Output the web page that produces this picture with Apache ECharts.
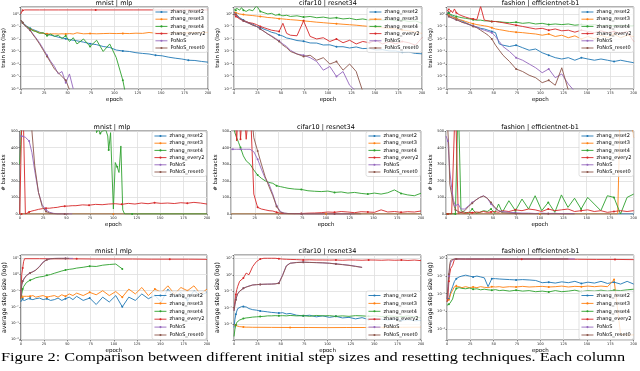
<!DOCTYPE html>
<html lang="en">
<head>
<meta charset="UTF-8">
<title>Step sizes and resetting</title>
<script src="https://cdn.jsdelivr.net/npm/echarts@6/dist/echarts.min.js"></script>
<style>
  html, body { margin: 0; padding: 0; background: #fff; }
  #chart { width: 640px; height: 371px; }
</style>
</head>
<body>
<div id="chart"></div>
<script>
const EP = [0,1,2,3,4,6,8,10,13,16,20,24,28,32,36,40,44,48,52,56,60,67,74,81,88,95,102,109,116,123,130,137,144,151,158,165,172,179,186,193,200];
const FLAT_X = [0,50,100,150,200];

const NAMES = ['zhang_reset2', 'zhang_reset3', 'zhang_reset4', 'zhang_every2', 'PoNoS', 'PoNoS_reset0'];
const COLORS = ['#1f77b4', '#ff7f0e', '#2ca02c', '#d62728', '#9467bd', '#8c564b'];

// ---- train loss, mnist | mlp
const lossMnistR2 = [0.32,0.25,0.2,0.16,0.14,0.11,0.089,0.072,0.056,0.047,0.035,0.028,0.024,0.02,0.017,0.014,0.012,0.0105,0.0089,0.0079,0.0071,0.0056,0.0042,0.0035,0.0025,0.0021,0.0013,0.0011,0.001,0.0008,0.0007,0.00063,0.0005,0.00045,0.00035,0.00029,0.00025,0.0002,0.00019,0.00016,0.00014];
const lossMnistR3 = [0.32,0.25,0.2,0.16,0.13,0.1,0.08,0.063,0.05,0.04,0.032,0.028,0.026,0.025,0.026,0.025,0.026,0.025,0.027,0.025,0.031,0.026,0.027,0.026,0.027,0.028,0.027,0.028,0.027,0.029,0.028,0.033,0.029,0.03,0.029,0.031,0.03,0.031,0.032,0.031,0.034];
const lossMnistR4 = [0.32,0.25,0.2,0.16,0.13,0.1,0.079,0.063,0.045,0.04,0.028,0.032,0.018,0.025,0.016,0.02,0.011,0.018,0.0063,0.0126,0.004,0.01,0.0025,0.0079,0.001,0.004,0.00032,5e-6,1e-8];
const lossMnistEvX = [0,1,2,4,20,40,60,80,100,120,140,160,180,200];
const lossMnistEv = [1.0,1.6,2.0,2.1,2.1,2.1,2.1,2.1,2.1,2.1,2.1,2.1,2.1,2.1];
const lossMnistPo = [0.32,0.25,0.2,0.16,0.13,0.089,0.063,0.05,0.025,0.0126,0.005,0.0016,0.0005,0.00016,6.3e-5,1.6e-5,2.5e-5,3.2e-6,1.6e-5,1.05e-6];
const lossMnistPo0 = [0.32,0.25,0.2,0.16,0.13,0.089,0.063,0.05,0.022,0.0112,0.004,0.00126,0.0004,0.000126,4e-5,2e-5,1e-5,5e-6,9e-7];

// ---- train loss, cifar10 | resnet34
const lossCifarR2 = [1.4,1.25,1.0,0.8,0.7,0.5,0.4,0.33,0.24,0.2,0.15,0.1,0.085,0.06,0.047,0.034,0.029,0.021,0.017,0.012,0.0105,0.0075,0.0066,0.0048,0.0047,0.0033,0.0034,0.0024,0.0024,0.0019,0.0023,0.0017,0.0018,0.0013,0.0014,0.0011,0.0011,0.00085,0.0009,0.0007,0.00065];
const lossCifarR3 = [1.41,1.32,1.26,1.2,1.12,1.0,0.95,0.89,0.83,0.79,0.74,0.68,0.63,0.58,0.52,0.5,0.46,0.42,0.4,0.37,0.35,0.32,0.28,0.25,0.22,0.2,0.18,0.166,0.15,0.138,0.126,0.112,0.1,0.089,0.079,0.071,0.063,0.052,0.045,0.035,0.028];
const lossCifarR4 = [2.0,2.5,2.0,2.8,2.2,2.0,3.2,2.0,1.6,2.2,1.8,4.5,1.6,1.26,1.0,1.12,0.79,0.89,0.71,0.79,0.63,0.71,0.56,0.63,0.5,0.56,0.45,0.5,0.4,0.45,0.35,0.4,0.32,0.35,0.32,0.35,0.28,0.32,0.25,0.28,0.18];
const lossCifarEv = [1.0,0.79,0.63,0.5,0.45,0.4,0.32,0.28,0.25,0.2,0.18,0.14,0.1,0.079,0.063,0.05,0.045,0.04,0.18,0.028,0.02,0.018,0.28,0.016,0.01,0.0126,0.0063,0.01,0.005,0.0079,0.004,0.0063,0.005,0.0079,0.004,0.0063,0.004,0.0063,0.005,0.0032,0.0126];
const lossCifarPo = [1.41,1.12,0.89,0.71,0.63,0.45,0.35,0.28,0.22,0.178,0.126,0.1,0.063,0.04,0.025,0.0178,0.0112,0.0071,0.004,0.0025,0.00126,0.00063,0.0005,0.00032,0.000158,3.2e-5,6.3e-5,1e-5,2.5e-5,2e-6,6.3e-7];
const lossCifarPo0 = [1.41,1.12,0.89,0.71,0.63,0.45,0.35,0.28,0.22,0.178,0.126,0.1,0.063,0.04,0.025,0.0158,0.01,0.0063,0.0032,0.002,0.001,0.00063,0.0004,0.0005,0.0002,0.00032,0.0001,0.000158,3.2e-5,0.0001,2.5e-5,6.3e-7];

// ---- train loss, fashion | efficientnet-b1
const lossFashR2 = [1.12,1.0,1.26,0.89,0.79,0.63,0.5,0.45,0.35,0.28,0.2,0.14,0.112,0.089,0.071,0.063,0.05,0.04,0.032,0.004,0.0032,0.0025,0.0032,0.002,0.00126,0.00158,0.00079,0.0005,0.00032,0.00025,0.00032,0.0002,0.00032,0.00025,0.0002,0.00025,0.0002,0.000158,0.0002,0.000158,0.000126];
const lossFashR3 = [1.0,0.89,0.79,0.71,0.63,0.56,0.5,0.45,0.35,0.32,0.25,0.2,0.166,0.141,0.126,0.112,0.1,0.079,0.063,0.056,0.05,0.04,0.035,0.032,0.028,0.025,0.02,0.025,0.0158,0.02,0.0126,0.0178,0.01,0.0158,0.01,0.02,0.0126,0.025,0.0126,0.02,0.0158];
const lossFashR4 = [1.26,1.41,1.12,1.0,0.89,0.79,0.71,0.63,0.56,0.5,0.45,0.4,0.35,0.32,0.32,0.28,0.28,0.25,0.25,0.24,0.22,0.2,0.22,0.178,0.2,0.158,0.178,0.141,0.158,0.141,0.158,0.126,0.141,0.126,0.141,0.112,0.126,0.112,0.126,0.112,0.112];
const lossFashEv = [2.0,1.58,2.24,1.26,2.0,1.26,2.51,1.26,0.89,0.71,0.56,0.45,0.4,0.35,4.0,0.32,0.28,0.25,0.25,0.22,0.2,0.158,0.126,0.1,0.079,0.063,0.071,0.05,0.063,0.045,0.05,0.035,0.05,0.04,0.032,0.045,0.032,0.04,0.028,0.04,0.0063];
const lossFashPo = [1.0,0.79,0.63,0.56,0.5,0.45,0.4,0.35,0.28,0.22,0.178,0.141,0.112,0.089,0.063,0.05,0.04,0.032,0.0158,0.0063,0.0025,0.001,0.00032,0.0002,0.0001,5e-5,2e-5,4e-5,8e-6,1.6e-5,2.5e-6,6.3e-7];
const lossFashPo0 = [1.0,0.79,0.63,0.56,0.5,0.45,0.4,0.35,0.28,0.22,0.178,0.141,0.1,0.079,0.05,0.032,0.02,0.01,0.0032,0.00126,0.0005,0.000158,4e-5,2.5e-5,1.26e-5,8e-6,3.2e-6,5e-6,2e-6,5e-5,8e-7];

// ---- backtracks, mnist | mlp
const btZero = [0,0,0,0,0];
const btMnistR4X = [0,1,2,3,80,82,84,86,88,90,92,94,95,97,98,100,102,104,106,108,110,112,120,160,200];
const btMnistR4 = [300,420,560,700,700,490,510,485,500,495,505,470,385,490,480,30,310,285,250,410,25,0,0,0,0];
const btMnistEv = [0,0,0,800,800,0,5,12,18,22,28,32,35,35,38,40,45,47,48,50,50,55,53,58,56,60,62,58,64,60,66,62,68,64,66,63,68,65,70,66,60];
const btMnistPo = [470,470,468,468,465,462,452,440,370,260,130,55,25,10,4,1,0,0,0,0];
const btMnistPo0 = [700,700,700,700,700,700,700,700,500,290,130,45,15,5,2,0,0,0,0];

// ---- backtracks, cifar10 | resnet34
const btCifarR4 = [700,700,600,520,490,460,430,400,350,320,300,265,235,215,200,190,185,170,165,160,155,150,148,140,137,135,138,130,133,126,130,124,120,126,120,128,145,124,115,110,125];
const btCifarEv = [700,700,700,700,700,440,700,450,700,450,700,120,40,30,25,20,18,10,5,3,2,2,3,5,6,8,12,10,15,12,8,14,12,10,25,12,15,10,14,12,18];
const btCifarPo = [390,390,390,390,390,390,390,390,390,390,390,375,330,270,215,180,120,50,15,5,3,2,1,0,0,0,0,0,0,0,0];
const btCifarPo0 = [700,700,700,700,700,700,700,700,700,700,700,460,380,300,225,165,110,45,10,5,3,2,1,0,0,0,0,0,0,0,0,0];

// ---- backtracks, fashion | efficientnet-b1
const btFashR3X = [0,50,100,150,179,183,186,193,200];
const btFashR3 = [0,0,0,0,0,0,700,700,460];
const btFashR4 = [0,0,0,0,0,0,0,0,700,20,10,5,30,5,10,20,15,30,5,60,10,80,20,90,30,110,20,70,10,115,40,95,30,100,60,20,110,100,0,100,120];
const btFashEv = [0,0,0,0,0,0,0,700,5,10,5,10,8,12,10,15,10,12,15,10,20,15,25,20,30,25,15,30,20,25,30,15,20,25,15,20,10,15,20,15,20];
const btFashPo = [470,460,440,350,260,160,80,50,60,30,30,50,70,85,100,110,95,60,35,20,15,10,8,5,5,3,5,3,4,2,3,2];
const btFashPo0 = [700,700,700,400,180,120,60,25,15,10,20,45,65,85,100,108,95,70,40,20,8,5,3,2,2,1,2,1,1,0,0,0];

// ---- average step size, mnist | mlp
const stMnistR2 = [0.02,0.028,0.032,0.028,0.025,0.028,0.032,0.035,0.028,0.032,0.035,0.028,0.032,0.025,0.028,0.035,0.025,0.032,0.04,0.028,0.045,0.025,0.035,0.014,0.04,0.02,0.05,0.01,0.04,0.025,0.063,0.032,0.05,0.02,0.126,0.04,0.079,0.025,0.1,0.05,0.079];
const stMnistR3 = [0.05,0.045,0.04,0.045,0.04,0.045,0.04,0.045,0.05,0.04,0.045,0.05,0.04,0.045,0.05,0.04,0.056,0.045,0.063,0.05,0.071,0.05,0.079,0.056,0.1,0.05,0.089,0.04,0.126,0.063,0.158,0.05,0.126,0.079,0.2,0.063,0.158,0.1,0.2,0.063,0.126];
const stMnistR4 = [0.03,0.063,0.126,0.178,0.22,0.32,0.38,0.45,0.52,0.63,0.71,0.76,0.89,1.0,1.2,1.41,1.66,1.9,2.1,2.24,2.51,2.82,3.31,3.16,3.8,4.17,4.47,2.24];
const stMnistEvX = [0,1,2,3,4,20,40,60,80,100,120,140,160,180,200];
const stMnistEv = [0.032,1.0,2.51,6.31,9.55,9.55,9.33,9.33,9.12,9.12,9.12,8.91,8.91,8.91,8.71];
const stMnistPo = [0.05,0.25,0.4,0.5,0.63,0.89,1.12,1.26,1.51,1.91,3.16,6.03,8.51,9.55,10,10,10,10,10,10];
const stMnistPo0 = [0.05,0.22,0.38,0.5,0.6,0.85,1.07,1.26,1.48,1.86,3.0,5.75,8.3,9.55,9.8,10,10,10,10];

// ---- average step size, cifar10 | resnet34
const stCifarR2 = [0.00063,0.002,0.004,0.0063,0.0089,0.0105,0.0117,0.012,0.0112,0.0089,0.0076,0.0071,0.0063,0.006,0.0056,0.0052,0.005,0.0047,0.005,0.0042,0.0045,0.0035,0.0032,0.0035,0.0028,0.0032,0.0026,0.003,0.0024,0.0026,0.0021,0.0025,0.0019,0.0022,0.002,0.0018,0.0021,0.0017,0.0019,0.0016,0.0017];
const stCifarR3X = [0,1,2,3,4,6,8,10,13,16,20,40,60,80,100,120,140,160,180,200];
const stCifarR3 = [0.00089,0.001,0.00089,0.00079,0.00076,0.00071,0.00071,0.00068,0.00066,0.00066,0.00065,0.00064,0.00063,0.00063,0.00062,0.00063,0.00063,0.00064,0.00065,0.00066];
const stCifarR4 = [0.00018,0.0005,0.00089,0.0013,0.0015,0.0018,0.002,0.0022,0.0024,0.0025,0.0027,0.0028,0.0029,0.003,0.0032,0.0032,0.0033,0.0032,0.0033,0.0032,0.0034,0.0032,0.0033,0.003,0.0034,0.0032,0.0033,0.003,0.0032,0.003,0.0033,0.0032,0.003,0.0032,0.0029,0.0032,0.003,0.0028,0.0032,0.0028,0.0024];
const stCifarEv = [0.0079,0.025,0.063,0.126,0.2,0.4,0.5,0.63,1.26,1.0,3.16,6.3,8.9,10,10,10,10,9.5,8.9,8.7,8.5,8.3,7.9,8.1,7.9,7.9,7.8,7.9,7.6,7.9,7.8,7.6,7.9,7.8,7.6,7.9,7.6,7.8,7.4,7.8,7.2];
const stCifarPo = [0.0063,0.016,0.032,0.05,0.071,0.1,0.126,0.15,0.178,0.21,0.24,0.25,0.26,0.26,0.27,0.275,0.28,0.32,1.0,3.55,5.0,5.6,5.75,5.6,5.5,5.25,5.0,4.6,4.2,3.8,3.3,2.8];
const stCifarPo0 = [0.0063,0.016,0.03,0.05,0.07,0.1,0.12,0.15,0.18,0.2,0.24,0.25,0.26,0.27,0.27,0.27,0.28,0.3,0.9,3.4,5.0,5.5,5.8,5.6,5.4,5.3,5.0,4.5,4.1,3.7,3.2,2.8];

// ---- average step size, fashion | efficientnet-b1
const stFashR2 = [0.0035,0.004,0.005,0.0063,0.0126,0.025,0.05,0.071,0.089,0.1,0.112,0.1,0.089,0.1,0.089,0.079,0.025,0.071,0.071,0.068,0.066,0.063,0.06,0.063,0.06,0.056,0.042,0.045,0.04,0.047,0.042,0.05,0.038,0.045,0.04,0.05,0.038,0.045,0.035,0.05,0.035];
const stFashR3 = [0.0035,0.004,0.0045,0.0063,0.01,0.0158,0.025,0.028,0.025,0.022,0.025,0.022,0.024,0.022,0.025,0.023,0.022,0.025,0.024,0.025,0.023,0.025,0.024,0.026,0.024,0.025,0.026,0.024,0.025,0.027,0.024,0.026,0.025,0.027,0.025,0.027,0.025,0.063,5e-5,4.5e-5,4.7e-5];
const stFashR4 = [0.0022,0.0025,0.0025,0.0028,0.0032,0.005,0.0126,0.02,0.022,0.02,0.019,0.021,0.018,0.019,0.0166,0.018,0.0166,0.0158,0.017,0.015,0.0158,0.014,0.0158,0.014,0.015,0.013,0.014,0.0126,0.015,0.013,0.014,0.0158,0.013,0.015,0.014,0.0158,0.014,0.0158,0.015,0.0166,0.018];
const stFashEvX = [0,1,2,3,4,6,8,10,13,20,40,60,80,100,120,140,160,180,200];
const stFashEv = [0.0035,0.0063,0.05,0.141,0.27,0.4,0.89,0.91,0.91,0.89,0.89,0.89,0.89,0.89,0.89,0.89,0.87,0.87,0.85];
const stFashPoX = [0,1,2,3,4,6,8,10,20,40,60,80,100,120,137];
const stFashPo = [0.005,0.02,0.1,0.35,0.56,0.83,0.91,0.93,0.93,0.93,0.93,0.93,0.93,0.93,0.93];
const stFashPo0X = [0,1,2,3,4,6,8,10,20,40,60,80,100,120,130];
const stFashPo0 = [0.005,0.025,0.126,0.5,0.79,0.89,0.93,0.93,0.93,0.93,0.93,0.93,0.93,0.93,0.93];

const CAPTION = 'Figure 2: Comparison between different initial step sizes and resetting techniques. Each column';

const FONT = 'DejaVu Sans';
const SUP = {'-': '\u207b', '0': '\u2070', '1': '\u00b9', '2': '\u00b2', '3': '\u00b3', '4': '\u2074', '5': '\u2075', '6': '\u2076', '7': '\u2077', '8': '\u2078', '9': '\u2079'};

function logLabel(v) {
  const k = Math.log10(v);
  const r = Math.round(k);
  if (Math.abs(k - r) > 0.02) return '';
  return '10' + String(r).split('').map(c => SUP[c]).join('');
}

function pairs(xs, ys) {
  const out = [];
  for (let i = 0; i < ys.length && i < xs.length; i++) out.push([xs[i], ys[i]]);
  return out;
}

// one entry per subplot; each series is [xs, ys] in NAMES order
const panels = [
  {title: 'mnist | mlp', kind: 'loss', box: [20, 7, 188, 82], lines: [
    [EP, lossMnistR2], [EP, lossMnistR3], [EP, lossMnistR4], [lossMnistEvX, lossMnistEv], [EP, lossMnistPo], [EP, lossMnistPo0]]},
  {title: 'cifar10 | resnet34', kind: 'loss', box: [234, 7, 188, 82], lines: [
    [EP, lossCifarR2], [EP, lossCifarR3], [EP, lossCifarR4], [EP, lossCifarEv], [EP, lossCifarPo], [EP, lossCifarPo0]]},
  {title: 'fashion | efficientnet-b1', kind: 'loss', box: [447, 7, 187, 82], lines: [
    [EP, lossFashR2], [EP, lossFashR3], [EP, lossFashR4], [EP, lossFashEv], [EP, lossFashPo], [EP, lossFashPo0]]},
  {title: 'mnist | mlp', kind: 'bt', box: [17, 131, 190, 83], lines: [
    [FLAT_X, btZero], [FLAT_X, btZero], [btMnistR4X, btMnistR4], [EP, btMnistEv], [EP, btMnistPo], [EP, btMnistPo0]]},
  {title: 'cifar10 | resnet34', kind: 'bt', box: [231, 131, 190, 83], lines: [
    [FLAT_X, btZero], [FLAT_X, btZero], [EP, btCifarR4], [EP, btCifarEv], [EP, btCifarPo], [EP, btCifarPo0]]},
  {title: 'fashion | efficientnet-b1', kind: 'bt', box: [446, 131, 188, 83], lines: [
    [FLAT_X, btZero], [btFashR3X, btFashR3], [EP, btFashR4], [EP, btFashEv], [EP, btFashPo], [EP, btFashPo0]]},
  {title: 'mnist | mlp', kind: 'step', box: [20, 255, 187, 85], yRange: [8.9e-5, 16.2], lines: [
    [EP, stMnistR2], [EP, stMnistR3], [EP, stMnistR4], [stMnistEvX, stMnistEv], [EP, stMnistPo], [EP, stMnistPo0]]},
  {title: 'cifar10 | resnet34', kind: 'step', box: [234, 255, 187, 85], yRange: [1.1e-4, 15.8], lines: [
    [EP, stCifarR2], [stCifarR3X, stCifarR3], [EP, stCifarR4], [EP, stCifarEv], [EP, stCifarPo], [EP, stCifarPo0]]},
  {title: 'fashion | efficientnet-b1', kind: 'step', box: [447, 255, 187, 85], yRange: [2.4e-5, 1.55], lines: [
    [EP, stFashR2], [EP, stFashR3], [EP, stFashR4], [stFashEvX, stFashEv], [stFashPoX, stFashPo], [stFashPo0X, stFashPo0]]}
];

const YNAME = {loss: 'train loss (log)', bt: '# backtracks', step: 'average step size (log)'};

const grid = [], xAxis = [], yAxis = [], series = [], title = [], legend = [];

panels.forEach((p, gi) => {
  const [l, t, w, h] = p.box;
  grid.push({left: l, top: t, width: w, height: h, show: true,
    borderColor: '#222', borderWidth: 0.7, backgroundColor: '#fff'});
  title.push({text: p.title, left: l + w / 2, top: t - 7, textAlign: 'center', padding: 0,
    textStyle: {fontFamily: FONT, fontSize: 6.5, fontWeight: 'normal', color: '#000'}});
  xAxis.push({gridIndex: gi, type: 'value', min: 0, max: 200, interval: 25,
    name: 'epoch', nameLocation: 'middle', nameGap: 8,
    nameTextStyle: {fontFamily: FONT, fontSize: 5.5, color: '#000'},
    axisLine: {show: false},
    axisTick: {show: true, length: 1.5, lineStyle: {color: '#222', width: 0.5}},
    axisLabel: {fontFamily: FONT, fontSize: 3.5, color: '#222', margin: 2},
    splitLine: {show: true, lineStyle: {color: '#dedede', width: 0.8}}});
  const y = {gridIndex: gi, name: YNAME[p.kind], nameLocation: 'middle', nameGap: 11,
    nameTextStyle: {fontFamily: FONT, fontSize: 5.5, color: '#000'},
    axisLine: {show: false},
    axisTick: {show: true, length: 1.5, lineStyle: {color: '#222', width: 0.5}},
    axisLabel: {fontFamily: FONT, fontSize: 3.6, color: '#222', margin: 2},
    splitLine: {show: true, lineStyle: {color: '#dedede', width: 0.8}}};
  if (p.kind === 'bt') {
    Object.assign(y, {type: 'value', min: 0, max: 500, interval: 100});
  } else {
    const r = p.kind === 'loss' ? [1e-6, 3.6] : p.yRange;
    Object.assign(y, {type: 'log', logBase: 10, min: r[0], max: r[1]});
    y.axisLabel.formatter = logLabel;
  }
  if (p.kind === 'step') y.nameTextStyle.fontSize = 6.2;
  yAxis.push(y);

  p.lines.forEach((ln, si) => {
    series.push({type: 'line', name: NAMES[si], xAxisIndex: gi, yAxisIndex: gi,
      data: pairs(ln[0], ln[1]), color: COLORS[si],
      symbol: 'circle', showSymbol: true,
      symbolSize: (v, prm) => (prm.dataIndex % 5 === 2 ? 2 : 0),
      lineStyle: {width: 0.9}, clip: true, silent: true});
  });

  const lower = p.kind === 'step';
  legend.push({data: NAMES, orient: 'vertical', left: l + w - 55,
    top: lower ? t + h - 49 : t + 0.5,
    itemWidth: 12, itemHeight: 2.6, itemGap: lower ? 2.9 : 2.2,
    lineStyle: {width: 0.9},
    padding: [2, 2, 2, 2], backgroundColor: 'rgba(255,255,255,0.8)',
    borderColor: '#ccc', borderWidth: 0.6, borderRadius: 2,
    textStyle: {fontFamily: FONT, fontSize: 5, color: '#000', padding: [0, 0, 0, -2]},
    selectedMode: false});
});

const chart = echarts.init(document.getElementById('chart'));
chart.setOption({
  animation: false,
  backgroundColor: '#fff',
  title, grid, xAxis, yAxis, series, legend,
  graphic: [{type: 'text', x: 1, y: 351, scaleY: 0.8,
    style: {text: CAPTION, font: '16.3px "Liberation Serif"', fill: '#000'}}]
});
</script>
</body>
</html>
